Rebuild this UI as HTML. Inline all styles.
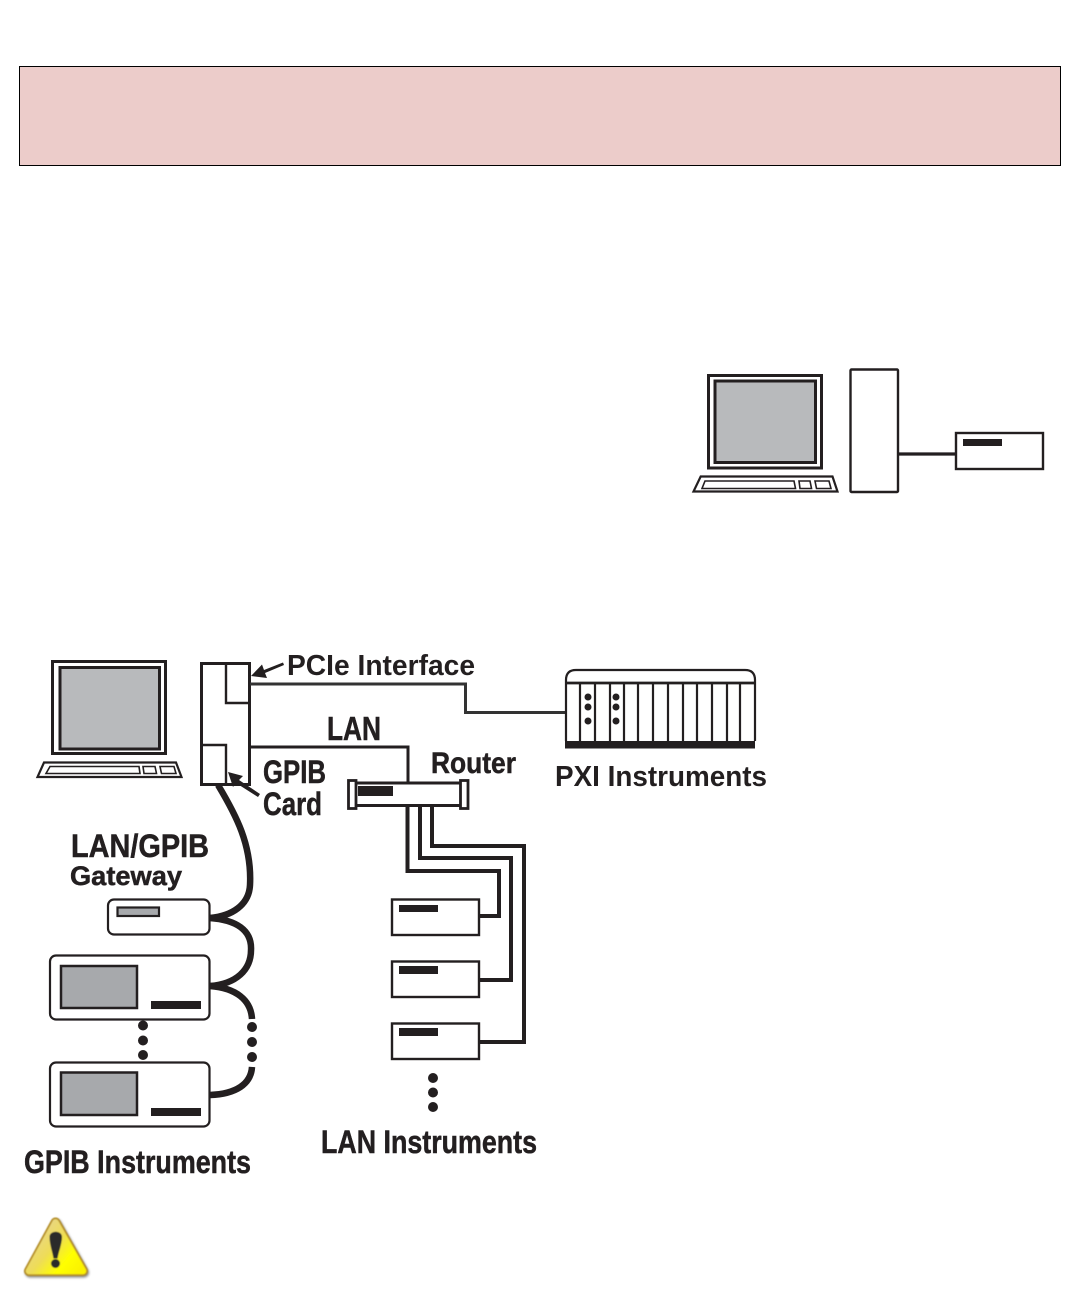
<!DOCTYPE html>
<html lang="en">
<head>
<meta charset="utf-8">
<title>Instrument connection diagram</title>
<style>
html,body{margin:0;padding:0;background:#fff}
body{width:1080px;height:1296px;overflow:hidden;position:relative}
svg{position:absolute;left:0;top:0;display:block}
text{font-family:"Liberation Sans",sans-serif;font-weight:bold;fill:#231f20}
.h{stroke:#231f20;stroke-width:0.5px}
</style>
</head>
<body>
<svg width="1080" height="1296" viewBox="0 0 1080 1296" xmlns="http://www.w3.org/2000/svg">
<defs>
<linearGradient id="warn" gradientUnits="userSpaceOnUse" x1="30" y1="1228" x2="80" y2="1270">
<stop offset="0" stop-color="#e6d49a"/><stop offset="0.45" stop-color="#eedc58"/><stop offset="0.75" stop-color="#ffff00"/><stop offset="1" stop-color="#fbf200"/>
</linearGradient>
<filter id="soft" x="-20%" y="-20%" width="140%" height="140%"><feGaussianBlur stdDeviation="0.5"/></filter>
<filter id="shadow" x="-20%" y="-20%" width="140%" height="140%"><feGaussianBlur stdDeviation="1.4"/></filter>
</defs>

<!-- banner -->
<rect x="19.5" y="66.5" width="1041" height="99" fill="#ecccca" stroke="#000" stroke-width="1"/>

<!-- small computer -->
<g fill="none" stroke="#231f20">
<rect x="708.5" y="375.5" width="113" height="92.5" fill="#fff" stroke-width="3"/>
<rect x="715" y="381" width="100.5" height="81.5" fill="#b8babc" stroke-width="3"/>
<path d="M700.7 476.5H832.5L837.5 491.5H693.5Z" fill="#fff" stroke-width="2.2"/>
<path d="M705 481H794L795.5 488.5H702Z" stroke-width="1.6"/>
<path d="M799 481H810L811.5 488.5H800Z" stroke-width="1.6"/>
<path d="M815 481H829L831 488.5H816.5Z" stroke-width="1.6"/>
<rect x="850.5" y="369.5" width="47.5" height="122.5" rx="1" fill="#fff" stroke-width="2.4"/>
<path d="M898 454H956" stroke-width="3.2"/>
<rect x="956" y="433" width="87" height="36" fill="#fff" stroke-width="2.4"/>
</g>
<rect x="963" y="439" width="39" height="7" fill="#231f20"/>

<!-- main computer -->
<g fill="none" stroke="#231f20">
<rect x="52.5" y="661.5" width="113" height="92" fill="#fff" stroke-width="3"/>
<rect x="60" y="667.5" width="99.5" height="81.5" fill="#b8babc" stroke-width="3"/>
<path d="M44 762.5H176L181.5 777H37.5Z" fill="#fff" stroke-width="2.2"/>
<path d="M50 766.5H139L140 773.5H46Z" stroke-width="1.6"/>
<path d="M143 766.5H155L156.5 773.5H144Z" stroke-width="1.6"/>
<path d="M160 766.5H174L176 773.5H161.5Z" stroke-width="1.6"/>

<!-- tower -->
<rect x="201.5" y="663.5" width="48" height="121" fill="#fff" stroke-width="3"/>
<path d="M226 664V703H249" stroke-width="2.4"/>
<path d="M202 745H226V784" stroke-width="2.4"/>

<!-- PCIe / LAN lines -->
<path d="M250 684H465.5V712.5H566" stroke-width="3" stroke="#333"/>
<path d="M250 747H408V783" stroke-width="3"/>

<!-- router lines -->
<path d="M407.5 806V871H499V916H480" stroke-width="4"/>
<path d="M420 806V858H511V980H480" stroke-width="4"/>
<path d="M432 806V846H524V1042H480" stroke-width="4"/>

<!-- GPIB cables -->
<path d="M218 785C236 815 252 845 250 885C249 905 232 916 210 918" stroke-width="6.5"/>
<path d="M210 918C236 920 252 930 251 950C251 970 236 984 210 986" stroke-width="6.5"/>
<path d="M210 986C236 988 251 1000 252 1019" stroke-width="6.5"/>
<path d="M252 1067C251 1084 236 1094 210 1095" stroke-width="6.5"/>

<!-- router -->
<rect x="353" y="783" width="110" height="22.5" fill="#fff" stroke-width="3"/>
<rect x="348.5" y="780.5" width="7.5" height="28" fill="#fff" stroke-width="2.8"/>
<rect x="460.5" y="780.5" width="7.5" height="28" fill="#fff" stroke-width="2.8"/>

<!-- LAN instruments -->
<rect x="392" y="899.5" width="87" height="35.5" fill="#fff" stroke-width="2.4"/>
<rect x="392" y="961.5" width="87" height="35.5" fill="#fff" stroke-width="2.4"/>
<rect x="392" y="1023.5" width="87" height="35.5" fill="#fff" stroke-width="2.4"/>

<!-- GPIB instruments -->
<rect x="108" y="899.5" width="101.5" height="35" rx="6" fill="#fff" stroke-width="2.2"/>
<rect x="117.5" y="907.5" width="41.5" height="8.5" fill="#a7a9ac" stroke-width="2.2"/>
<rect x="50" y="955.5" width="159.5" height="64" rx="6" fill="#fff" stroke-width="2.2"/>
<rect x="61" y="966" width="76" height="42" fill="#a7a9ac" stroke-width="2.5"/>
<rect x="50" y="1062.5" width="159.5" height="64" rx="6" fill="#fff" stroke-width="2.2"/>
<rect x="61" y="1072.5" width="76" height="42.5" fill="#a7a9ac" stroke-width="2.5"/>

<!-- PXI chassis -->
<path d="M566 741V680Q566 670 576 670H745Q755 670 755 680V741" fill="#fff" stroke-width="2.2"/>
<path d="M566 683H755" stroke-width="2.8"/>
<path d="M580 683V742M595 683V742M610 683V742M624 683V742M638 683V742M653 683V742M668 683V742M683 683V742M697 683V742M712 683V742M727 683V742M740 683V742" stroke-width="2.2"/>
</g>

<g fill="#231f20">
<rect x="358" y="786" width="35" height="10"/>
<rect x="399" y="905" width="39" height="7"/>
<rect x="399" y="966" width="39" height="8"/>
<rect x="399" y="1028" width="39" height="8"/>
<rect x="151" y="1001" width="50" height="8"/>
<rect x="151" y="1108" width="50" height="8"/>
<rect x="565" y="741" width="190" height="7.5"/>

<circle cx="588" cy="697" r="3.5"/><circle cx="588" cy="707" r="3.5"/><circle cx="588" cy="721" r="3.5"/>
<circle cx="616" cy="697" r="3.5"/><circle cx="616" cy="707" r="3.5"/><circle cx="616" cy="721" r="3.5"/>

<circle cx="143" cy="1025.5" r="5"/><circle cx="143" cy="1040.5" r="5"/><circle cx="143" cy="1055" r="5"/>
<circle cx="252" cy="1027" r="5"/><circle cx="252" cy="1042" r="5"/><circle cx="252" cy="1057" r="5"/>
<circle cx="433" cy="1078" r="5"/><circle cx="433" cy="1092.5" r="5"/><circle cx="433" cy="1107" r="5"/>

<!-- arrows -->
<path d="M251 676L262 664.5L264 670L283 662.5L284 665L265 673L267 678Z"/>
<path d="M228 772L243 776L239 780L260 794L258 797L236 783L233 787Z"/>
</g>

<!-- labels -->
<text x="287" y="675" font-size="29" textLength="188" lengthAdjust="spacingAndGlyphs">PCIe Interface</text>
<text class="h" x="327" y="740" font-size="33" textLength="54" lengthAdjust="spacingAndGlyphs">LAN</text>
<text class="h" x="263" y="783" font-size="32" textLength="63" lengthAdjust="spacingAndGlyphs">GPIB</text>
<text class="h" x="263" y="815" font-size="32" textLength="59" lengthAdjust="spacingAndGlyphs">Card</text>
<text class="h" x="71" y="857" font-size="32" textLength="138" lengthAdjust="spacingAndGlyphs">LAN/GPIB</text>
<text class="h" x="70" y="885" font-size="27" textLength="112" lengthAdjust="spacingAndGlyphs">Gateway</text>
<text class="h" x="431" y="773" font-size="30" textLength="85" lengthAdjust="spacingAndGlyphs">Router</text>
<text x="555" y="786" font-size="29" textLength="212" lengthAdjust="spacingAndGlyphs">PXI Instruments</text>
<text class="h" x="321" y="1153" font-size="32" textLength="216" lengthAdjust="spacingAndGlyphs">LAN Instruments</text>
<text class="h" x="24" y="1173" font-size="32" textLength="227" lengthAdjust="spacingAndGlyphs">GPIB Instruments</text>

<!-- warning icon -->
<path d="M55.5 1222.5L29 1271H83Z" transform="translate(1 1.5)" fill="#6b6b6b" stroke="#6b6b6b" stroke-width="10" stroke-linejoin="round" filter="url(#shadow)" opacity="0.8"/>
<g filter="url(#soft)">
<path d="M55.5 1222.5L29 1271H83Z" fill="#b8922c" stroke="#b8922c" stroke-width="10" stroke-linejoin="round"/>
<path d="M55.5 1222.5L29 1271H83Z" fill="url(#warn)" stroke="url(#warn)" stroke-width="6.5" stroke-linejoin="round"/>
<path d="M49.5 1237C49.5 1230 62 1230 62 1237C62 1244 58.5 1252 57.5 1258.5H53.5C52.5 1252 49.5 1244 49.5 1237Z" fill="#2b2b2b"/>
<circle cx="55.5" cy="1263.5" r="4.5" fill="#2b2b2b"/>
</g>
</svg>
</body>
</html>
